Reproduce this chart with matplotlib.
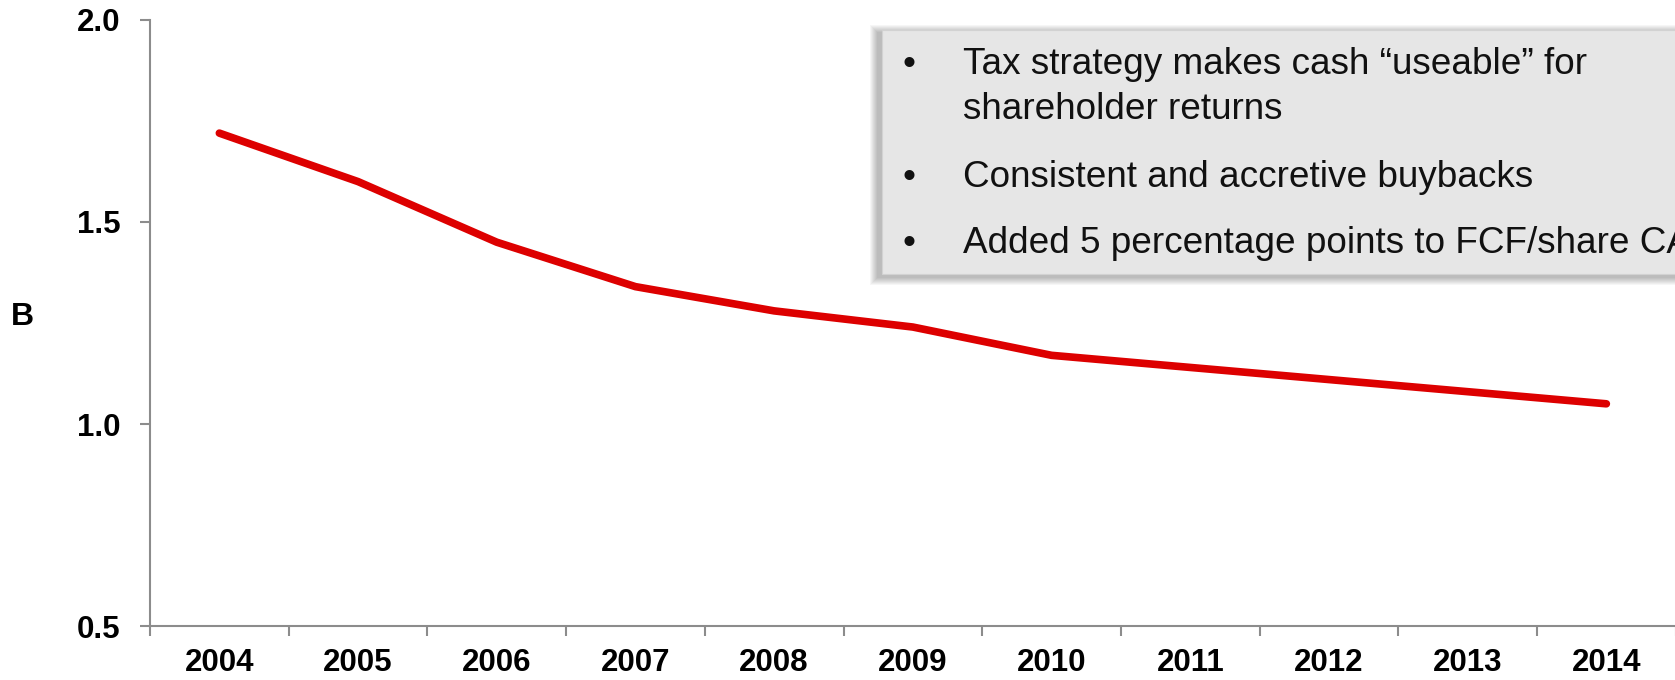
import numpy as np
import matplotlib
matplotlib.use("Agg")
import matplotlib.pyplot as plt
from matplotlib.patches import Rectangle

years = ["2004", "2005", "2006", "2007", "2008", "2009",
         "2010", "2011", "2012", "2013", "2014"]
values = [1.72, 1.60, 1.45, 1.34, 1.28, 1.24, 1.17, 1.14, 1.11, 1.08, 1.05]
yticks = [0.5, 1.0, 1.5, 2.0]
ylabel = "B"

bullets = [
    ["Tax strategy makes cash \u201cuseable\u201d for", "shareholder returns"],
    ["Consistent and accretive buybacks"],
    ["Added 5 percentage points to FCF/share CAGR"],
]

plt.rcParams['font.family'] = ['Liberation Sans', 'DejaVu Sans']

W, H = 1675, 680
fig = plt.figure(figsize=(W / 100, H / 100), dpi=100)
ax = fig.add_axes([150 / W, 54 / H, 1525.7 / W, 606 / H])

grey = '#8c8c8c'
x = np.arange(len(years))
ax.plot(x, values, color='#dd0000', lw=5.5,
        solid_capstyle='round', solid_joinstyle='round')

ax.set_xlim(-0.5, len(years) - 0.5)
ax.set_ylim(0.5, 2.0)
ax.set_yticks(yticks)
ax.set_yticklabels([f'{v:.1f}' for v in yticks])
ax.set_xticks(x)
ax.set_xticklabels(years)
# ticks sit on the category boundaries, labels in the middle
ax.set_xticks(np.arange(len(years) + 1) - 0.5, minor=True)
ax.tick_params(axis='x', which='major', length=0, pad=16, labelsize=22.5)
ax.tick_params(axis='x', which='minor', length=7, width=1.5, color=grey)
ax.tick_params(axis='y', length=7, width=1.5, color=grey, pad=14, labelsize=22.5)
for lbl in ax.get_xticklabels() + ax.get_yticklabels():
    lbl.set_fontweight('bold')

for s in ['top', 'right']:
    ax.spines[s].set_visible(False)
for s in ['left', 'bottom']:
    ax.spines[s].set_color(grey)
    ax.spines[s].set_linewidth(1.5)

fig.text(22 / W, 1 - 317 / H, ylabel, ha='center', va='center',
         fontsize=23, fontweight='bold')

# callout box in pixel coordinates
ov = fig.add_axes([0, 0, 1, 1])
ov.set_xlim(0, W)
ov.set_ylim(H, 0)
ov.axis('off')

bx, by, bw, bh = 882, 30, 900, 243.5
for i in range(8):
    g = 8 - i
    ov.add_patch(Rectangle((bx - 4 - g, by + 3 - g), bw + 2 * g, bh + 2 * g,
                           fc='#000000', ec='none', alpha=0.035))
ov.add_patch(Rectangle((bx, by), bw, bh, fc='#e6e6e6', ec='#d2d2d2', lw=0.8))

baselines = [[74, 119], [187], [253]]
for lines, ys in zip(bullets, baselines):
    ov.text(902, ys[0], '\u2022', fontsize=26.6, color='#111111', va='baseline')
    for line, y in zip(lines, ys):
        ov.text(963, y, line, fontsize=26.6, color='#111111', va='baseline')

fig.savefig('out.png', dpi=100)
